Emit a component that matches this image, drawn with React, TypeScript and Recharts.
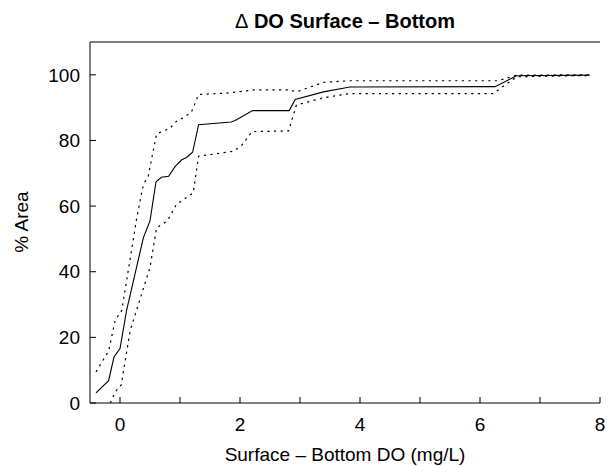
import React from 'react';
import { LineChart, Line, XAxis, YAxis } from 'recharts';

// mean curve
const meanX = [-0.4, -0.19, -0.1, 0.0, 0.11, 0.39, 0.5, 0.6, 0.69, 0.81, 0.92, 1.03, 1.11, 1.21, 1.31, 1.85, 1.92, 2.21, 2.82, 2.92, 3.39, 3.83, 6.25, 6.61, 7.83];
const meanY = [3.1, 6.8, 14.0, 16.6, 28.2, 50.4, 55.5, 67.4, 68.8, 69.1, 72.1, 74.1, 74.8, 76.4, 84.8, 85.6, 86.1, 89.1, 89.1, 92.5, 94.8, 96.3, 96.4, 99.7, 99.9];

// upper bound
const upperX = [-0.4, -0.19, -0.08, 0.03, 0.28, 0.39, 0.47, 0.61, 0.83, 0.94, 1.06, 1.19, 1.31, 1.83, 2.22, 2.83, 2.94, 3.39, 3.83, 6.3, 6.61, 7.83];
const upperY = [9.5, 15.8, 25.2, 28.2, 56.5, 66.6, 69.1, 82.0, 83.7, 85.8, 87.0, 88.6, 94.0, 94.5, 95.4, 95.4, 94.8, 97.7, 98.2, 98.2, 99.9, 100];

// lower bound
const lowerX = [-0.16, -0.08, 0.02, 0.17, 0.5, 0.61, 0.79, 0.94, 1.22, 1.31, 1.89, 2.03, 2.2, 2.81, 2.94, 3.39, 3.83, 6.22, 6.61, 7.83];
const lowerY = [0, 3.4, 5.5, 22.1, 41.3, 53.4, 55.5, 60.5, 64.0, 75.2, 76.7, 78.5, 82.7, 82.9, 90.8, 93.0, 94.3, 94.3, 99.4, 99.8];

const xTicks = [0, 1, 2, 3, 4, 5, 6, 7, 8];
const yTicks = [0, 20, 40, 60, 80, 100];

const toPoints = (xs: number[], ys: number[]) => xs.map((x, i) => ({ x, y: ys[i] }));

const FONT = '"Liberation Sans", Arial, Helvetica, sans-serif';
const FS = 19;

const App: React.FC = () => {
  const tickStyle = { fill: '#000', fontSize: FS, fontFamily: FONT };
  return (
    <div style={{ position: 'absolute', left: 0, top: 0, width: 610, height: 466, background: '#fff' }}>
      <LineChart width={610} height={466} margin={{ top: 0, right: 10, left: 0, bottom: 0 }} style={{ fontFamily: FONT }}>
        <XAxis
          xAxisId="top"
          orientation="top"
          type="number"
          domain={[-0.5, 8]}
          ticks={xTicks}
          interval={0}
          height={42}
          tickSize={-6}
          tickFormatter={() => ''}
          axisLine={{ stroke: '#000' }}
          tickLine={{ stroke: '#000' }}
          label={() => (
            <text x={345} y={28} textAnchor="middle" fontSize={FS + 1} fontWeight="bold" fontFamily={FONT} fill="#000">
              <tspan fontWeight="normal">Δ</tspan> DO Surface – Bottom
            </text>
          )}
        />
        <XAxis
          dataKey="x"
          type="number"
          domain={[-0.5, 8]}
          ticks={xTicks}
          interval={0}
          height={63}
          tickSize={-6}
          tickMargin={21}
          tickFormatter={(v: number) => (v % 2 === 0 ? String(v) : '')}
          tick={tickStyle}
          axisLine={{ stroke: '#000' }}
          tickLine={{ stroke: '#000' }}
          label={() => (
            <text x={345} y={461} textAnchor="middle" fontSize={FS} fontFamily={FONT} fill="#000">
              Surface – Bottom DO (mg/L)
            </text>
          )}
        />
        <YAxis
          type="number"
          domain={[0, 110]}
          ticks={yTicks}
          interval={0}
          width={90}
          tickSize={-6}
          tickMargin={16}
          tick={tickStyle}
          axisLine={{ stroke: '#000' }}
          tickLine={{ stroke: '#000' }}
          label={() => (
            <text x={28} y={222} transform="rotate(-90, 28, 222)" textAnchor="middle" fontSize={FS} fontFamily={FONT} fill="#000">
              % Area
            </text>
          )}
        />
        <YAxis
          yAxisId="right"
          orientation="right"
          type="number"
          domain={[0, 110]}
          ticks={yTicks}
          interval={0}
          width={0}
          tickSize={-6}
          tickFormatter={() => ''}
          axisLine={{ stroke: '#000' }}
          tickLine={{ stroke: '#000' }}
        />
        <Line data={toPoints(upperX, upperY)} dataKey="y" type="linear" stroke="#000" strokeWidth={1.2} strokeDasharray="2.2 4.4" dot={false} isAnimationActive={false} />
        <Line data={toPoints(lowerX, lowerY)} dataKey="y" type="linear" stroke="#000" strokeWidth={1.2} strokeDasharray="2.2 4.4" dot={false} isAnimationActive={false} />
        <Line data={toPoints(meanX, meanY)} dataKey="y" type="linear" stroke="#000" strokeWidth={1.1} dot={false} isAnimationActive={false} />
      </LineChart>
    </div>
  );
};

export default App;
